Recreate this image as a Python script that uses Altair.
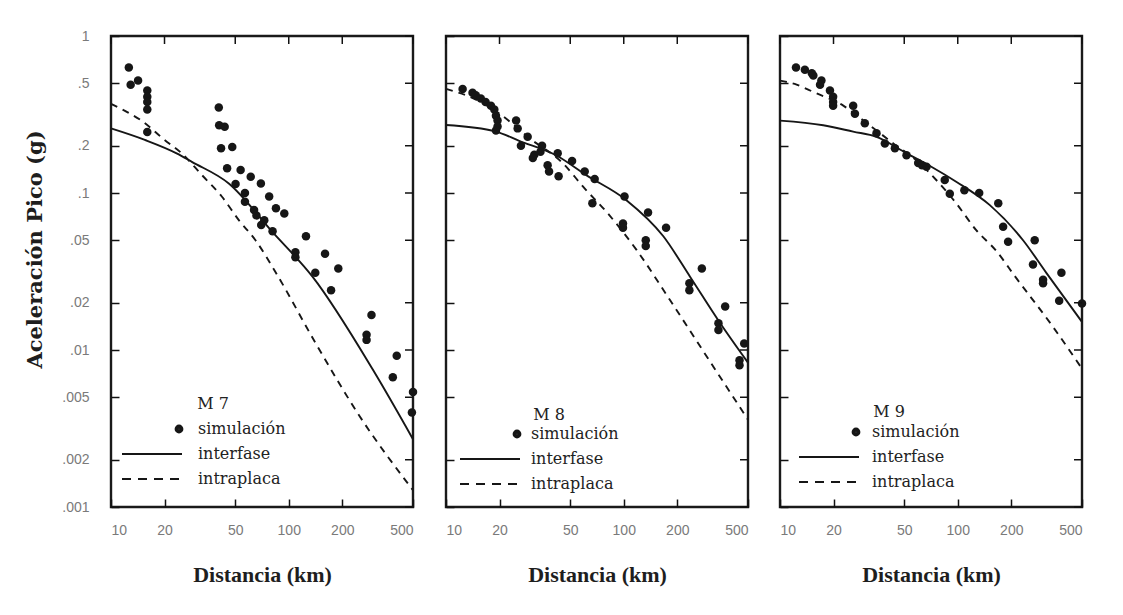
import altair as alt
import pandas as pd

# ---------------- data ----------------
series_names = ["simulación", "interfase", "intraplaca"]
panel_titles = ["M 7", "M 8", "M 9"]

x_ticks = [10, 20, 50, 100, 200, 500]
y_ticks = [1, 0.5, 0.2, 0.1, 0.05, 0.02, 0.01, 0.005, 0.002, 0.001]

# M 7
m7_sim_d = [12.6, 12.9, 14.2, 16.0, 16.0, 16.0, 16.0, 16.0, 40.4, 40.6, 43.6, 41.6, 48.1,
            45.0, 53.6, 61.1, 69.7, 50.2, 56.7, 56.7, 77.6, 63.8, 65.8, 84.7, 94.4, 72.8,
            81.1, 70.0, 125, 109, 109, 160, 141, 190, 173, 292, 274, 274, 405, 385, 500, 493]
m7_sim_a = [0.63, 0.49, 0.52, 0.45, 0.41, 0.38, 0.34, 0.245, 0.35, 0.27, 0.264, 0.193, 0.196,
            0.144, 0.14, 0.127, 0.115, 0.114, 0.1, 0.088, 0.095, 0.078, 0.072, 0.08, 0.074, 0.067,
            0.057, 0.0625, 0.053, 0.042, 0.039, 0.041, 0.031, 0.033, 0.024, 0.0167, 0.0125, 0.0116,
            0.0092, 0.0067, 0.0054, 0.004]
m7_inter_d = [10, 15.5, 23.4, 28.5, 46, 80.6, 136, 297, 500]
m7_inter_a = [0.258, 0.218, 0.179, 0.158, 0.115, 0.0567, 0.0293, 0.0075, 0.0027]
m7_intra_d = [10, 12.2, 14.8, 20, 25, 32.5, 42, 52.5, 65, 84, 142, 250, 500]
m7_intra_a = [0.37, 0.33, 0.29, 0.218, 0.179, 0.13, 0.095, 0.067, 0.05, 0.0315, 0.011, 0.0038, 0.00128]

# M 8
m8_sim_d = [12.4, 14.1, 14.7, 15.7, 16.7, 17.9, 18.7, 19.1, 19.5, 19.5, 19.1, 24.8, 25.3, 28.8,
            26.4, 31.4, 30.8, 34.7, 34.0, 37.3, 38.0, 43.0, 42.5, 51.2, 60.3, 68.6, 66.6, 101,
            99, 99, 137, 133, 133, 173, 275, 234, 234, 372, 341, 341, 476, 448, 448]
m8_sim_a = [0.46, 0.435, 0.42, 0.40, 0.38, 0.36, 0.34, 0.31, 0.29, 0.265, 0.25, 0.29, 0.258, 0.228,
            0.2, 0.175, 0.167, 0.2, 0.183, 0.15, 0.137, 0.128, 0.179, 0.16, 0.137, 0.123, 0.086, 0.095,
            0.064, 0.06, 0.075, 0.05, 0.046, 0.06, 0.033, 0.0266, 0.024, 0.0189, 0.0148, 0.0134,
            0.011, 0.0086, 0.008]
m8_inter_d = [10, 19.1, 25.8, 41.6, 61.5, 103.5, 167, 236, 349, 500]
m8_inter_a = [0.271, 0.246, 0.215, 0.174, 0.13, 0.09, 0.053, 0.0293, 0.0148, 0.0083]
m8_intra_d = [10, 15, 20, 30, 45.4, 60.2, 79.8, 118, 182, 320, 500]
m8_intra_a = [0.46, 0.39, 0.32, 0.22, 0.155, 0.107, 0.076, 0.0434, 0.0208, 0.0078, 0.0036]

# M 9
m9_sim_d = [12.3, 13.8, 15.1, 15.4, 17.1, 16.8, 19.1, 19.9, 19.9, 19.9, 25.8, 26.4, 30, 34.9,
            38.9, 44.3, 51.5, 59.9, 66.7, 63, 84.5, 90.2, 109, 132, 169, 180, 192, 271, 265, 302,
            383, 302, 372, 500]
m9_sim_a = [0.63, 0.61, 0.58, 0.56, 0.52, 0.49, 0.45, 0.41, 0.38, 0.36, 0.36, 0.32, 0.278, 0.24,
            0.207, 0.193, 0.174, 0.155, 0.147, 0.15, 0.121, 0.099, 0.104, 0.1, 0.086, 0.061, 0.049,
            0.05, 0.035, 0.028, 0.031, 0.0266, 0.0206, 0.0198]
m9_inter_d = [10, 17.5, 25.8, 34.9, 51.5, 71, 98, 151, 233, 315, 500]
m9_inter_a = [0.289, 0.27, 0.246, 0.228, 0.179, 0.147, 0.118, 0.084, 0.05, 0.031, 0.0151]
m9_intra_d = [10, 12.4, 15.4, 22.7, 29.4, 43.4, 61, 75.7, 98, 127, 164, 212, 344, 500]
m9_intra_a = [0.52, 0.49, 0.44, 0.36, 0.29, 0.207, 0.155, 0.121, 0.086, 0.058, 0.043, 0.029, 0.014, 0.0076]

# ---------------- styling ----------------
INK = "#161616"
SERIF = "Liberation Serif"
WIDE_SERIF = "DejaVu Serif"
SANS = "Liberation Sans"
W, H = 302, 471
X_MIN, X_MAX = 10, 500
Y_MIN, Y_MAX = 0.001, 1

# legend symbols: custom paths (unit = 10 px at symbolSize 400); dot drawn as concentric rings
legend_shapes = [
    "M3.05,0A0.35,0.35,0,1,1,2.35,0A0.35,0.35,0,1,1,3.05,0"
    "M2.9,0A0.2,0.2,0,1,1,2.5,0A0.2,0.2,0,1,1,2.9,0"
    "M2.76,0A0.06,0.06,0,1,1,2.64,0A0.06,0.06,0,1,1,2.76,0",
    "M-3,0L3,0",
    "M-3,0L-2.1,0M-1.4,0L-0.5,0M0.2,0L1.1,0M1.8,0L2.7,0",
]

xscale = alt.Scale(type="log", domain=[X_MIN, X_MAX], nice=False)
yscale = alt.Scale(type="log", domain=[Y_MIN, Y_MAX], nice=False)

y_label_expr = "replace(toString(datum.value), '0.', '.')"


def axes_for(idx):
    x_axis = alt.Axis(orient="bottom", values=x_ticks, format="d", offset=-8, tickSize=8,
                      ticks=True, tickColor="#111", tickWidth=1.5,
                      domain=False, grid=False, labelPadding=16, labelFont=SANS, labelFontSize=14,
                      labelColor="#7a7a7a", title="Distancia (km)", titleFont=SERIF,
                      titleFontSize=22, titleFontWeight="bold", titleColor="#1e1e1e",
                      titlePadding=27)
    if idx == 0:
        y_axis = alt.Axis(orient="left", values=y_ticks, labelExpr=y_label_expr, offset=-8,
                          tickSize=8, ticks=True, tickColor="#111", tickWidth=1.5,
                          domain=False, grid=False, labelPadding=22, labelFont=SANS,
                          labelFontSize=14, labelColor="#7a7a7a", title="Aceleración Pico (g)",
                          titleFont=WIDE_SERIF, titleFontSize=21, titleFontWeight="bold",
                          titleColor="#1e1e1e", titleX=-84, titleY=213, titleAngle=270,
                          titleAlign="center", titleBaseline="middle")
    else:
        y_axis = alt.Axis(orient="left", values=y_ticks, offset=-8, tickSize=8, ticks=True,
                          tickColor="#111", tickWidth=1.5, domain=False,
                          grid=False, labels=False, title=None)
    return x_axis, y_axis


def panel(idx, sim_d, sim_a, inter_d, inter_a, intra_d, intra_a, leg_x, leg_y, lab_off, title_pad):
    sim = pd.DataFrame({"d": sim_d, "a": sim_a})
    inter = pd.DataFrame({"d": inter_d, "a": inter_a})
    intra = pd.DataFrame({"d": intra_d, "a": intra_a})
    leg_df = pd.DataFrame({"serie": series_names})
    yt_df = pd.DataFrame({"a": y_ticks})
    xt_df = pd.DataFrame({"d": x_ticks})
    x_axis, y_axis = axes_for(idx)

    X = alt.X("d:Q", scale=xscale, axis=x_axis)
    Y = alt.Y("a:Q", scale=yscale, axis=y_axis)

    pts = alt.Chart(sim).mark_circle(size=72, color=INK, opacity=1).encode(x=X, y=Y)
    solid = alt.Chart(inter).mark_line(color=INK, strokeWidth=1.9,
                                       interpolate="monotone").encode(x=X, y=Y)
    dashed = alt.Chart(intra).mark_line(color=INK, strokeWidth=1.9, strokeDash=[7, 6],
                                        interpolate="monotone").encode(x=X, y=Y)
    # mirrored inward ticks on the right and top borders (at the axis tick values)
    right_ticks = alt.Chart(yt_df).mark_rule(color="#111", strokeWidth=1.5, x2Offset=-8).encode(
        x=alt.XDatum(X_MAX, type="quantitative", scale=xscale, axis=x_axis),
        x2=alt.X2Datum(X_MAX),
        y=Y,
    )
    top_ticks = alt.Chart(xt_df).mark_rule(color="#111", strokeWidth=1.5, y2Offset=8).encode(
        y=alt.YDatum(Y_MAX, type="quantitative", scale=yscale, axis=y_axis),
        y2=alt.Y2Datum(Y_MAX),
        x=X,
    )
    leg = alt.Chart(leg_df).mark_point(filled=False, color=INK, opacity=0).encode(
        shape=alt.Shape(
            "serie:N",
            scale=alt.Scale(domain=series_names, range=legend_shapes),
            legend=alt.Legend(
                orient="none", legendX=leg_x, legendY=leg_y, padding=0,
                title=panel_titles[idx], titleFont=WIDE_SERIF, titleFontSize=16,
                titleFontWeight="normal", titleColor="#222", titleAnchor="middle",
                titlePadding=title_pad,
                labelFont=WIDE_SERIF, labelFontSize=16, labelColor="#222", labelOffset=lab_off,
                symbolSize=400, symbolStrokeColor=INK, symbolFillColor=INK,
                symbolStrokeWidth=1.8, symbolOpacity=1, rowPadding=6,
            ),
        )
    )
    return alt.layer(pts, solid, dashed, right_ticks, top_ticks, leg).properties(width=W, height=H)


p1 = panel(0, m7_sim_d, m7_sim_a, m7_inter_d, m7_inter_a, m7_intra_d, m7_intra_a, 30, 360, 35, 6)
p2 = panel(1, m8_sim_d, m8_sim_a, m8_inter_d, m8_inter_a, m8_intra_d, m8_intra_a, 33, 371, 30, 0)
p3 = panel(2, m9_sim_d, m9_sim_a, m9_inter_d, m9_inter_a, m9_intra_d, m9_intra_a, 38, 368, 32, 1)

chart = (
    alt.hconcat(p1, p2, p3, spacing=22)
    .resolve_scale(shape="independent")
    .resolve_legend(shape="independent")
    .properties(padding={"left": 14, "top": 19, "right": 5, "bottom": 5}, background="white")
    .configure_view(stroke="#1a1a1a", strokeWidth=2.4)
)

chart.save("out.html", embed_options={"renderer": "svg", "actions": False})
